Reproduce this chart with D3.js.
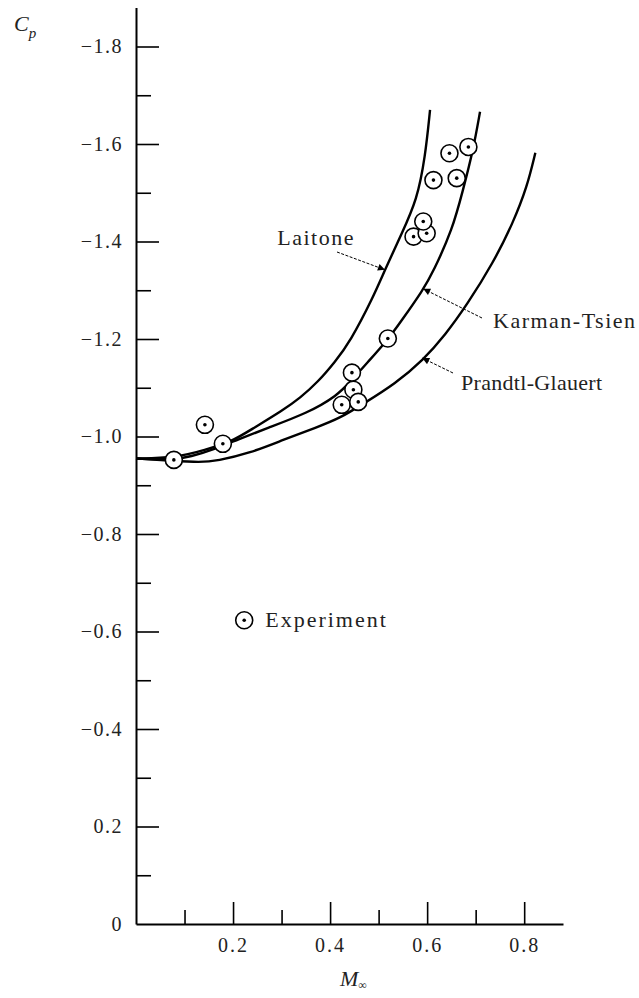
<!DOCTYPE html>
<html><head><meta charset="utf-8">
<script src="https://cdn.jsdelivr.net/npm/d3@7"></script>
<style>body{margin:0;background:#fff}svg{display:block}</style>
</head><body><svg id="c" width="639" height="998"></svg>
<script>
// ---- data ----
const laitoneM  = [0, 0.080, 0.142, 0.200, 0.235, 0.303, 0.338, 0.375, 0.410, 0.441, 0.489, 0.513, 0.548, 0.579, 0.596, 0.606];
const laitoneCp = [-0.955, -0.956, -0.972, -0.991, -1.013, -1.054, -1.079, -1.112, -1.153, -1.194, -1.286, -1.342, -1.417, -1.485, -1.573, -1.670];
const karmanM   = [0, 0.076, 0.111, 0.167, 0.208, 0.270, 0.353, 0.414, 0.445, 0.478, 0.520, 0.544, 0.592, 0.612, 0.652, 0.674, 0.695, 0.709];
const karmanCp  = [-0.955, -0.952, -0.958, -0.976, -0.993, -1.017, -1.048, -1.083, -1.116, -1.153, -1.200, -1.233, -1.301, -1.337, -1.424, -1.506, -1.588, -1.666];
const prandtlM  = [0, 0.076, 0.132, 0.167, 0.235, 0.303, 0.373, 0.421, 0.468, 0.534, 0.592, 0.637, 0.682, 0.736, 0.777, 0.806, 0.823];
const prandtlCp = [-0.955, -0.950, -0.947, -0.950, -0.966, -0.993, -1.019, -1.038, -1.067, -1.108, -1.157, -1.208, -1.270, -1.356, -1.438, -1.512, -1.582];
const expM  = [0.078, 0.179, 0.142, 0.424, 0.448, 0.458, 0.445, 0.519, 0.572, 0.599, 0.592, 0.613, 0.661, 0.646, 0.685];
const expCp = [-0.952, -0.985, -1.024, -1.065, -1.096, -1.071, -1.131, -1.201, -1.410, -1.417, -1.441, -1.526, -1.530, -1.581, -1.594];
const yTickValues = [-1.8, -1.6, -1.4, -1.2, -1.0, -0.8, -0.6, -0.4, -0.2, 0];
const yTickLabels = ["\u22121.8", "\u22121.6", "\u22121.4", "\u22121.2", "\u22121.0", "\u22120.8", "\u22120.6", "\u22120.4", "0.2", "0"];
const yMinorValues = [-1.7, -1.5, -1.3, -1.1, -0.9, -0.7, -0.5, -0.3, -0.1];
const xTickValues = [0.2, 0.4, 0.6, 0.8];
const xTickLabels = ["0.2", "0.4", "0.6", "0.8"];
const xMinorValues = [0.1, 0.3, 0.5, 0.7];
const curveNames = ["Laitone", "Karman-Tsien", "Prandtl-Glauert"];
const legendLabel = "Experiment";

// ---- scales ----
const svg = d3.select("#c");
const x = d3.scaleLinear().domain([0, 0.88]).range([136, 563]);
const y = d3.scaleLinear().domain([0, -1.88]).range([924, 7.5]);
const serif = "'Liberation Serif','DejaVu Serif',serif";

// ---- axes ----
const yAxis = d3.axisLeft(y).tickValues(yTickValues)
  .tickFormat((d, i) => yTickLabels[i]).tickSizeInner(-23).tickSizeOuter(0).tickPadding(13);
const gy = svg.append("g").attr("transform", "translate(136,0)").call(yAxis);
gy.select(".domain").attr("stroke-width", 2);
gy.selectAll(".tick line").attr("stroke-width", 1.6);
gy.selectAll(".tick text").attr("font-family", serif).attr("font-size", 20)
  .attr("letter-spacing", 1.5).attr("fill", "#222");
gy.selectAll(".tick").filter(d => d === 0).select("line").remove();

const yMinor = d3.axisLeft(y).tickValues(yMinorValues).tickFormat("").tickSizeInner(-15).tickSizeOuter(0);
const gym = svg.append("g").attr("transform", "translate(136,0)").call(yMinor);
gym.select(".domain").remove();
gym.selectAll(".tick line").attr("stroke-width", 1.6);

const xAxis = d3.axisBottom(x).tickValues(xTickValues)
  .tickFormat((d, i) => xTickLabels[i]).tickSizeInner(-22).tickSizeOuter(0).tickPadding(14);
const gx = svg.append("g").attr("transform", "translate(0,924)").call(xAxis);
gx.select(".domain").attr("stroke-width", 2);
gx.selectAll(".tick line").attr("stroke-width", 1.6);
gx.selectAll(".tick text").attr("font-family", serif).attr("font-size", 20)
  .attr("letter-spacing", 2).attr("fill", "#222");
const xMinor = d3.axisBottom(x).tickValues(xMinorValues).tickFormat("").tickSizeInner(-14).tickSizeOuter(0);
const gxm = svg.append("g").attr("transform", "translate(0,924)").call(xMinor);
gxm.select(".domain").remove();
gxm.selectAll(".tick line").attr("stroke-width", 1.6);

// axis titles
const cp = svg.append("text").attr("x", 14).attr("y", 31).attr("font-family", serif)
  .attr("font-size", 22).attr("font-style", "italic").attr("fill", "#222");
cp.append("tspan").text("C");
cp.append("tspan").attr("dy", 7).attr("font-size", 15).text("p");
const mt = svg.append("text").attr("x", 340).attr("y", 986).attr("font-family", serif)
  .attr("font-size", 22).attr("font-style", "italic").attr("fill", "#222");
mt.append("tspan").text("M");
mt.append("tspan").attr("dy", 3).attr("font-size", 12).attr("font-style", "normal").text("\u221e");

// ---- curves ----
const line = d3.line().x(d => x(d[0])).y(d => y(d[1])).curve(d3.curveBasis);
const series = [
  d3.zip(laitoneM, laitoneCp),
  d3.zip(karmanM, karmanCp),
  d3.zip(prandtlM, prandtlCp)
];
svg.append("g").selectAll("path").data(series).join("path")
  .attr("d", line).attr("fill", "none").attr("stroke", "#000").attr("stroke-width", 2.4);

// ---- annotations ----
svg.append("defs").append("marker").attr("id", "ah").attr("viewBox", "0 0 10 10")
  .attr("refX", 10).attr("refY", 5).attr("markerWidth", 9).attr("markerHeight", 7)
  .attr("orient", "auto").attr("markerUnits", "userSpaceOnUse")
  .append("path").attr("d", "M0,0L10,5L0,10z").attr("fill", "#000");
const annotations = [
  {name: curveNames[0], tip: [0.513, -1.342], tail: [337, 252], tx: 355, ty: 245, anchor: "end", ls: 1.5},
  {name: curveNames[1], tip: [0.592, -1.303], tail: [482, 318], tx: 493, ty: 328, anchor: "start", ls: 1.5},
  {name: curveNames[2], tip: [0.590, -1.161], tail: [453, 373], tx: 461, ty: 390, anchor: "start", ls: 0.3}
];
const ga = svg.append("g");
annotations.forEach(a => {
  ga.append("line").attr("x1", a.tail[0]).attr("y1", a.tail[1])
    .attr("x2", x(a.tip[0])).attr("y2", y(a.tip[1]))
    .attr("stroke", "#000").attr("stroke-width", 1).attr("stroke-dasharray", "3,1.5")
    .attr("marker-end", "url(#ah)");
  ga.append("text").attr("x", a.tx).attr("y", a.ty).attr("text-anchor", a.anchor)
    .attr("font-family", serif).attr("font-size", 22).attr("letter-spacing", a.ls)
    .attr("fill", "#222").text(a.name);
});

// ---- experiment points ----
const pts = svg.append("g").selectAll("g").data(d3.zip(expM, expCp)).join("g")
  .attr("transform", d => `translate(${x(d[0])},${y(d[1])})`);
pts.append("circle").attr("r", 8.5).attr("fill", "#fff").attr("stroke", "#000").attr("stroke-width", 1.6);
pts.append("circle").attr("r", 1.8).attr("fill", "#000");

// legend
const lg = svg.append("g").attr("transform", `translate(${x(0.223)},${y(-0.623)})`);
lg.append("circle").attr("r", 8.5).attr("fill", "#fff").attr("stroke", "#000").attr("stroke-width", 1.6);
lg.append("circle").attr("r", 1.8).attr("fill", "#000");
lg.append("text").attr("x", 21).attr("y", 7).attr("font-family", serif).attr("font-size", 22)
  .attr("letter-spacing", 2).attr("fill", "#222").text(legendLabel);
</script></body></html>
